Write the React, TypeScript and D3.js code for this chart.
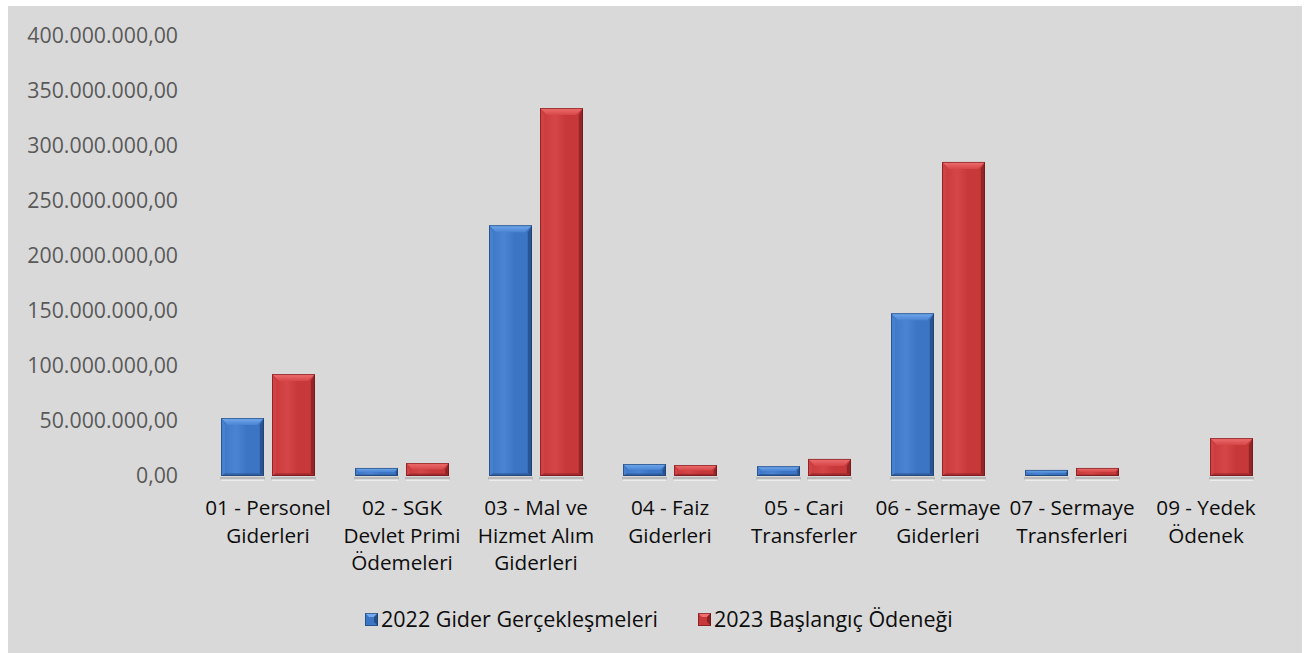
import React from "react";
import * as d3 from "d3";

const categories = [
  "01 - Personel Giderleri",
  "02 - SGK Devlet Primi Ödemeleri",
  "03 - Mal ve Hizmet Alım Giderleri",
  "04 - Faiz Giderleri",
  "05 - Cari Transferler",
  "06 - Sermaye Giderleri",
  "07 - Sermaye Transferleri",
  "09 - Yedek Ödenek",
];
const categoryLines = [
  ["01 - Personel", "Giderleri"],
  ["02 - SGK", "Devlet Primi", "Ödemeleri"],
  ["03 - Mal ve", "Hizmet Alım", "Giderleri"],
  ["04 - Faiz", "Giderleri"],
  ["05 - Cari", "Transferler"],
  ["06 - Sermaye", "Giderleri"],
  ["07 - Sermaye", "Transferleri"],
  ["09 - Yedek", "Ödenek"],
];
const seriesNames = ["2022 Gider Gerçekleşmeleri", "2023 Başlangıç Ödeneği"];
const values2022 = [52700000, 7300000, 228000000, 10900000, 9000000, 148000000, 5500000, 0];
const values2023 = [92700000, 11800000, 334500000, 10000000, 15500000, 285500000, 7300000, 34500000];
const yTicks = [0, 50000000, 100000000, 150000000, 200000000, 250000000, 300000000, 350000000, 400000000];

const palettes = [
  { face: "#3c75c4", light: "#74abee", mid: "#4a84d2", dark: "#264f8a", darker: "#1a3a66" },
  { face: "#c7383a", light: "#f07070", mid: "#d54648", dark: "#8a2224", darker: "#651416" },
];

const trLocale = d3.formatLocale({ decimal: ",", thousands: ".", grouping: [3], currency: ["", ""] });
const fmt = trLocale.format(",.2f");

const W = 1304;
const H = 653;
const FONT = "'Open Sans', sans-serif";

function Bar({ x, y, w, h, p, id }: { x: number; y: number; w: number; h: number; p: typeof palettes[0]; id: string }) {
  if (h <= 0) return null;
  const b = Math.min(7, h / 2);
  const x2 = x + w;
  const y2 = y + h;
  return (
    <g>
      <rect x={x - 1} y={y2 + 1} width={w + 2} height={2.5} fill="#b9b9b9" />
      <rect x={x} y={y2 + 3.5} width={w} height={1.5} fill="#ececec" />
      <rect x={x} y={y} width={w} height={h} fill={`url(#face-${id})`} />
      <polygon points={`${x},${y} ${x2},${y} ${x2 - b},${y + b} ${x + b},${y + b}`} fill={`url(#top-${id})`} />
      <polygon points={`${x},${y} ${x + b * 0.6},${y + b} ${x + b * 0.6},${y2 - b * 0.4} ${x},${y2}`} fill={p.mid} opacity={0.7} />
      <polygon points={`${x2},${y} ${x2 - b * 0.6},${y + b} ${x2 - b * 0.6},${y2 - b * 0.4} ${x2},${y2}`} fill={p.dark} opacity={0.85} />
      <polygon points={`${x},${y2} ${x + b * 0.6},${y2 - b * 0.4} ${x2 - b * 0.6},${y2 - b * 0.4} ${x2},${y2}`} fill={p.dark} opacity={0.6} />
      <rect x={x + 0.5} y={y + 0.5} width={w - 1} height={h - 1} fill="none" stroke={p.darker} strokeWidth={1} opacity={0.6} />
    </g>
  );
}

export default function App() {
  const y = d3.scaleLinear().domain([0, 400000000]).range([476, 36]);
  const x0 = d3.scaleBand<string>().domain(categories).range([201, 1273]).padding(0);
  const x1 = d3
    .scaleBand<string>()
    .domain(seriesNames)
    .range([20, x0.bandwidth() - 20])
    .paddingInner(0.157);
  const allValues = [values2022, values2023];
  const ids = ["s0", "s1"];

  return (
    <svg width={W} height={H} style={{ position: "absolute", left: 0, top: 0, display: "block" }}>
      <defs>
        {palettes.map((p, i) => (
          <React.Fragment key={i}>
            <linearGradient id={`face-${ids[i]}`} x1="0" y1="0" x2="1" y2="0">
              <stop offset="0" stopColor={p.face} />
              <stop offset="0.35" stopColor={p.mid} />
              <stop offset="0.6" stopColor={p.face} />
              <stop offset="1" stopColor={p.face} />
            </linearGradient>
            <linearGradient id={`top-${ids[i]}`} x1="0" y1="0" x2="0" y2="1">
              <stop offset="0" stopColor={p.light} />
              <stop offset="1" stopColor={p.mid} />
            </linearGradient>
          </React.Fragment>
        ))}
      </defs>
      <rect x={0} y={0} width={W} height={H} fill="#ffffff" />
      <rect x={8} y={6} width={1294} height={H - 6} fill="#d9d9d9" />
      {yTicks.map((t) => (
        <text
          key={t}
          x={178}
          y={y(t)}
          dy="0.35em"
          textAnchor="end"
          fontFamily={FONT}
          fontSize={21.3}
          fill="#595959"
        >
          {fmt(t)}
        </text>
      ))}
      {categories.map((c, i) => (
        <g key={c} transform={`translate(${x0(c)},0)`}>
          {seriesNames.map((s, si) => {
            const v = allValues[si][i];
            const top = y(v);
            return (
              <Bar key={s} id={ids[si]} x={x1(s)!} y={top} w={x1.bandwidth()} h={y(0) - top} p={palettes[si]} />
            );
          })}
          {categoryLines[i].map((line, li) => (
            <text
              key={li}
              x={x0.bandwidth() / 2}
              y={515 + li * 27.5}
              textAnchor="middle"
              fontFamily={FONT}
              fontSize={20.7}
              fill="#0d0d0d"
            >
              {line}
            </text>
          ))}
        </g>
      ))}
      {seriesNames.map((s, si) => {
        const lx = si === 0 ? 365 : 698;
        const p = palettes[si];
        const sz = 13;
        const ly = 613;
        return (
          <g key={s}>
            <rect x={lx} y={ly} width={sz} height={sz} fill={p.face} />
            <polygon points={`${lx},${ly} ${lx + sz},${ly} ${lx + sz - 4},${ly + 4} ${lx + 4},${ly + 4}`} fill={p.light} />
            <polygon points={`${lx + sz},${ly} ${lx + sz - 4},${ly + 4} ${lx + sz - 4},${ly + sz - 4} ${lx + sz},${ly + sz}`} fill={p.dark} />
            <rect x={lx + 0.5} y={ly + 0.5} width={sz - 1} height={sz - 1} fill="none" stroke={p.darker} opacity={0.6} />
            <text x={lx + sz + 3} y={ly + sz / 2} dy="0.35em" fontFamily={FONT} fontSize={21.5} fill="#0d0d0d">
              {s}
            </text>
          </g>
        );
      })}
    </svg>
  );
}
